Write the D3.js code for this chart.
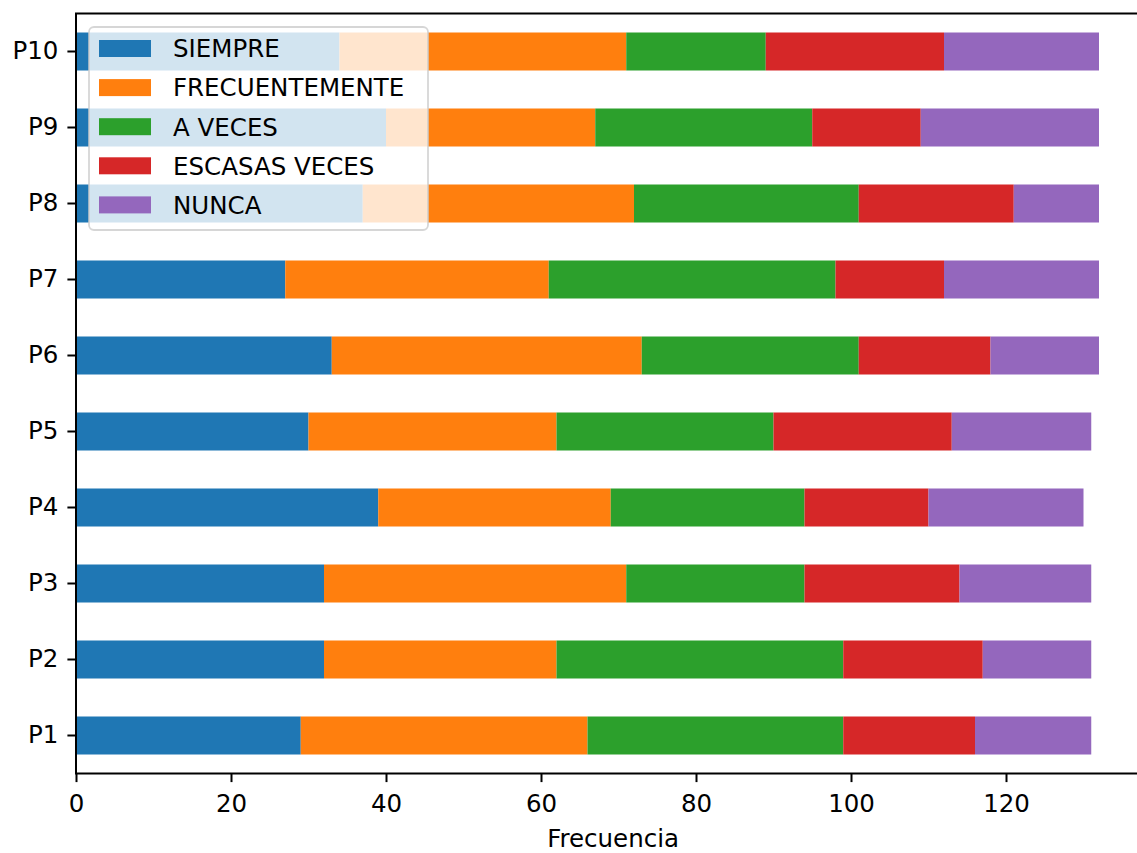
<!DOCTYPE html>
<html>
<head>
<meta charset="utf-8">
<script src="https://cdn.jsdelivr.net/npm/d3@7"></script>
<style>
  html, body { margin: 0; padding: 0; background: #fff; }
  svg { display: block; }
  text { font-family: "DejaVu Sans", sans-serif; fill: #000; }
</style>
</head>
<body>
<svg id="chart" width="1137" height="853"></svg>
<script>
// ---- data ----
const categories = ["P1","P2","P3","P4","P5","P6","P7","P8","P9","P10"];
const seriesNames = ["SIEMPRE","FRECUENTEMENTE","A VECES","ESCASAS VECES","NUNCA"];
const siempre        = [29, 32, 32, 39, 30, 33, 27, 37, 40, 34];
const frecuentemente = [37, 30, 39, 30, 32, 40, 34, 35, 27, 37];
const aVeces         = [33, 37, 23, 25, 28, 28, 37, 29, 28, 18];
const escasasVeces   = [17, 18, 20, 16, 23, 17, 14, 20, 14, 23];
const nunca          = [15, 14, 17, 20, 18, 14, 20, 11, 23, 20];
const xTicks = [0, 20, 40, 60, 80, 100, 120];
const xLabel = "Frecuencia";
const colors = ["#1f77b4","#ff7f0e","#2ca02c","#d62728","#9467bd"];

(function () {
const seriesValues = [siempre, frecuentemente, aVeces, escasasVeces, nunca];
const rows = categories.map((c, i) => {
  const r = { cat: c };
  seriesNames.forEach((s, j) => r[s] = seriesValues[j][i]);
  return r;
});
const stacked = d3.stack().keys(seriesNames)(rows);
const maxTotal = d3.max(rows, r => d3.sum(seriesNames, s => r[s]));

// ---- layout ----
const mLeft = 76, mTop = 13.5, mBottom = 773.5;
const svg = d3.select("#chart");
const x = d3.scaleLinear().domain([0, maxTotal * 1.05]).range([mLeft, mLeft + maxTotal * 1.05 * 7.75]);
const y = d3.scaleBand().domain(categories.slice().reverse()).range([mTop, mBottom])
  .paddingInner(0.5).paddingOuter(0.25);

// bars
svg.append("g").selectAll("g").data(stacked).join("g")
  .attr("fill", (d, i) => colors[i])
  .selectAll("rect").data(d => d).join("rect")
  .attr("x", d => x(d[0]))
  .attr("y", d => y(d.data.cat))
  .attr("width", d => x(d[1]) - x(d[0]))
  .attr("height", y.bandwidth());

// axes
const fs = 24.5;
const xAxis = d3.axisBottom(x).tickValues(xTicks).tickSize(8.6).tickPadding(8).tickSizeOuter(0);
const gx = svg.append("g").attr("transform", `translate(0,${mBottom})`).call(xAxis);
const yAxis = d3.axisLeft(y).tickSize(8.6).tickPadding(9).tickSizeOuter(0);
const gy = svg.append("g").attr("transform", `translate(${mLeft},0)`).call(yAxis);
[gx, gy].forEach(g => {
  g.select(".domain").remove();
  g.selectAll(".tick line").attr("stroke", "#000").attr("stroke-width", 2);
  g.selectAll(".tick text").attr("font-size", fs).attr("font-family", "DejaVu Sans").attr("fill", "#000");
});
gx.selectAll(".tick text").attr("dy", "0.89em");

// spines (right spine lies outside the picture)
const xr = x.range()[1];
svg.append("rect").attr("x", mLeft).attr("y", mTop).attr("width", xr - mLeft).attr("height", mBottom - mTop)
  .attr("fill", "none").attr("stroke", "#000").attr("stroke-width", 2);

// x label
svg.append("text").attr("x", (mLeft + xr) / 2).attr("y", 847)
  .attr("text-anchor", "middle").attr("font-size", fs).text(xLabel);

// legend
const lg = svg.append("g");
lg.append("rect").attr("x", 89).attr("y", 27).attr("width", 339).attr("height", 203)
  .attr("rx", 5).attr("fill", "#fff").attr("fill-opacity", 0.8)
  .attr("stroke", "#ccc").attr("stroke-opacity", 0.8).attr("stroke-width", 1.8);
seriesNames.forEach((s, i) => {
  const cy = 48.5 + i * 39.1;
  lg.append("rect").attr("x", 99).attr("y", cy - 8.5).attr("width", 52).attr("height", 17).attr("fill", colors[i]);
  lg.append("text").attr("x", 173).attr("y", cy).attr("dy", "0.36em").attr("font-size", fs).text(s);
});
})();
</script>
</body>
</html>
